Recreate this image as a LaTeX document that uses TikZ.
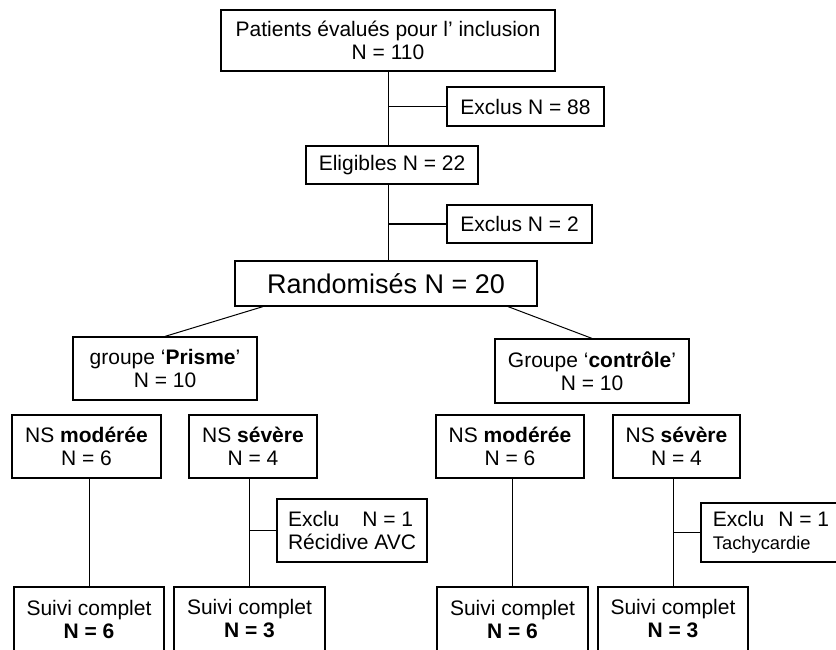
\documentclass[tikz,border=0pt]{standalone}
\usepackage{fontspec}
\setmainfont{Liberation Sans}

\begin{document}
\begin{tikzpicture}[
            x=1pt, y=-1pt, % one unit = one pixel of the layout, y downwards
            box/.style={draw, line width=1.2pt, align=center, inner sep=0pt, font=\fontsize{21}{23}\selectfont}, % framed box
            big/.style={font=\fontsize{27}{30}\selectfont}, % larger text
            link/.style={line width=1pt} % connecting lines
            ]

                \useasboundingbox (0,0) rectangle (836,650);
                \clip (0,0) rectangle (836,650);

                % Screening
                \node[box, minimum width=334pt, minimum height=61pt] (eval) at (388,40.5) {Patients évalués pour l’ inclusion\\N = 110};
                \node[box, minimum width=157pt, minimum height=39pt] (excl1) at (525.5,106.5) {Exclus N = 88};
                \node[box, minimum width=172pt, minimum height=38pt] (elig) at (392,165) {Eligibles N = 22};
                \node[box, minimum width=145pt, minimum height=38pt] (excl2) at (519.5,224) {Exclus N = 2};
                \node[box, big, minimum width=302pt, minimum height=45pt] (rand) at (386,283.5) {Randomisés N = 20};

                % Groups
                \node[box, minimum width=184pt, minimum height=63pt] (prisme) at (165,368.5) {groupe ‘\textbf{Prisme}’\\N = 10};
                \node[box, minimum width=194pt, minimum height=64pt] (ctrl) at (592,371) {Groupe ‘\textbf{contrôle}’\\N = 10};

                % Severity, prism group
                \node[box, minimum width=149pt, minimum height=63pt] (pmod) at (86.5,446.5) {NS \textbf{modérée}\\N = 6};
                \node[box, minimum width=128pt, minimum height=63pt] (psev) at (253,446.5) {NS \textbf{sévère}\\N = 4};
                \node[box, align=left, minimum width=150pt, minimum height=63pt] (pexcl) at (352,530.5) {Exclu\hspace{23pt}N = 1\\Récidive AVC};
                \node[box, minimum width=150pt, minimum height=64pt] (pmodend) at (89,619) {Suivi complet\\\textbf{N = 6}};
                \node[box, minimum width=151pt, minimum height=64pt] (psevend) at (249.5,619) {Suivi complet\\\textbf{N = 3}};

                % Severity, control group
                \node[box, minimum width=148pt, minimum height=63pt] (cmod) at (510,446.5) {NS \textbf{modérée}\\N = 6};
                \node[box, minimum width=127pt, minimum height=63pt] (csev) at (676.5,446.5) {NS \textbf{sévère}\\N = 4};
                \node[box, align=left, minimum width=140pt, minimum height=59pt] (cexcl) at (771,532.5) {Exclu\hspace{14pt}N = 1\\{\fontsize{18.3}{20}\selectfont Tachycardie}};
                \node[box, minimum width=151pt, minimum height=64pt] (cmodend) at (512.5,619) {Suivi complet\\\textbf{N = 6}};
                \node[box, minimum width=150pt, minimum height=64pt] (csevend) at (673,619) {Suivi complet\\\textbf{N = 3}};

                % Main trunk
                \draw[link] (eval.south) -- (eval.south |- elig.north);
                \draw[link] (eval.south |- elig.south) -- (eval.south |- rand.north);
                \draw[link] (excl1.west) -- (excl1.west -| eval.south);
                \draw[link] (excl2.west) -- (excl2.west -| eval.south);

                % Split into groups
                \draw[link] ([xshift=-123pt]rand.south) -- (prisme.north);
                \draw[link] ([xshift=122pt]rand.south) -- (ctrl.north);

                % Follow-up
                \draw[link] (pmodend.north) -- (pmodend.north |- pmod.south);
                \draw[link] (psevend.north) -- (psevend.north |- psev.south);
                \draw[link] (pexcl.west) -- (pexcl.west -| psevend.north);
                \draw[link] (cmodend.north) -- (cmodend.north |- cmod.south);
                \draw[link] (csevend.north) -- (csevend.north |- csev.south);
                \draw[link] (cexcl.west) -- (cexcl.west -| csevend.north);

            \end{tikzpicture}
\end{document}
